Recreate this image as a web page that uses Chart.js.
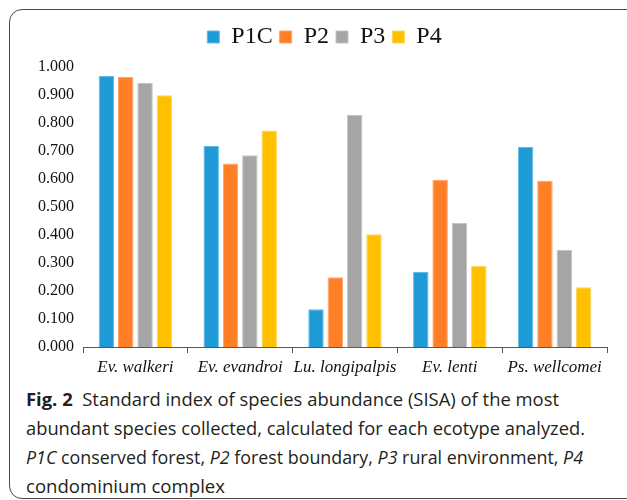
<!DOCTYPE html>
<html>
<head>
<meta charset="utf-8">
<script src="https://cdn.jsdelivr.net/npm/chart.js@4.4.1/dist/chart.umd.min.js"></script>
<style>
  html, body { margin: 0; padding: 0; background: #fff; width: 627px; height: 500px; overflow: hidden; }
  #frame { position: absolute; left: 9px; top: 9px; width: 640px; height: 490px; border: 1.3px solid #4a4a4a; border-radius: 13px; box-sizing: border-box; }
  #c { position: absolute; left: 0; top: 0; }
  #cap { position: absolute; left: 26px; top: 385px; font-family: "Open Sans", "Noto Sans", sans-serif; font-size: 18px; line-height: 29px; color: #231f20; }
  #cap .ln { white-space: nowrap; transform-origin: 0 50%; width: max-content; }
  #cap b { font-weight: 700; }
</style>
</head>
<body>
<div id="frame"></div>
<canvas id="c" width="627" height="380"></canvas>
<div id="cap">
  <div class="ln" data-w="533"><b>Fig. 2</b>&nbsp; Standard index of species abundance (SISA) of the most</div>
  <div class="ln" data-w="559">abundant species collected, calculated for each ecotype analyzed.</div>
  <div class="ln" data-w="557"><i>P1C</i> conserved forest, <i>P2</i> forest boundary, <i>P3</i> rural environment, <i>P4</i></div>
  <div class="ln" data-w="199">condominium complex</div>
</div>
<script>
const categories = ['Ev. walkeri', 'Ev. evandroi', 'Lu. longipalpis', 'Ev. lenti', 'Ps. wellcomei'];
const seriesNames = ['P1C', 'P2', 'P3', 'P4'];
const P1C = [0.968, 0.718, 0.135, 0.268, 0.715];
const P2  = [0.964, 0.655, 0.249, 0.597, 0.594];
const P3  = [0.944, 0.685, 0.829, 0.443, 0.347];
const P4  = [0.899, 0.773, 0.403, 0.289, 0.213];
const yTickLabels = ['0.000', '0.100', '0.200', '0.300', '0.400', '0.500', '0.600', '0.700', '0.800', '0.900', '1.000'];

const fills = ['#1E9BD7', '#FF7F27', '#A5A5A5', '#FFC000'];
const edges = ['#62BBE6', '#FFA366', '#C4C4C4', '#FFD45C'];
const seriesValues = [P1C, P2, P3, P4];

const legendSpace = {
  id: 'legendSpace',
  beforeInit(chart) {
    const origFit = chart.legend.fit;
    chart.legend.fit = function () {
      origFit.call(this);
      this.height += 8;
    };
  },
  afterLayout(chart) {
    chart.legend.left += 21;
    chart.legend.right += 21;
  }
};

const chart = new Chart(document.getElementById('c'), {
  type: 'bar',
  data: {
    labels: categories,
    datasets: seriesNames.map((n, i) => ({
      label: n,
      data: seriesValues[i],
      backgroundColor: fills[i],
      borderColor: edges[i],
      borderWidth: 1,
      categoryPercentage: 0.738,
      barPercentage: 0.80
    }))
  },
  options: {
    responsive: false,
    devicePixelRatio: 1,
    animation: false,
    layout: { padding: { top: 18, right: 20, left: 0, bottom: 0 } },
    plugins: {
      legend: {
        position: 'top',
        labels: {
          boxWidth: 12, boxHeight: 12, padding: 7,
          color: '#111',
          font: { family: '"Liberation Serif", "Times New Roman", serif', size: 24 }
        }
      },
      tooltip: { enabled: false }
    },
    scales: {
      x: {
        afterFit(scale) { scale.height = 33; },
        grid: { display: true, drawOnChartArea: false, drawTicks: true, tickLength: 6, color: '#595959', offset: true },
        border: { display: true, color: '#595959', width: 1 },
        ticks: {
          padding: 4, color: '#111', maxRotation: 0, autoSkip: false,
          font: { family: '"Liberation Serif", "Times New Roman", serif', size: 17, style: 'italic' }
        }
      },
      y: {
        min: 0, max: 1,
        afterFit(scale) { scale.width = 83; },
        grid: { display: false, drawTicks: false },
        border: { display: false },
        ticks: {
          stepSize: 0.1, padding: 9, color: '#111',
          font: { family: '"Liberation Serif", "Times New Roman", serif', size: 16 },
          callback: (v, i) => yTickLabels[i]
        }
      }
    }
  },
  plugins: [legendSpace]
});

document.querySelectorAll('#cap .ln').forEach(el => {
  const w = el.getBoundingClientRect().width;
  const target = parseFloat(el.dataset.w);
  el.style.transform = 'scaleX(' + (target / w) + ')';
});
</script>
</body>
</html>
